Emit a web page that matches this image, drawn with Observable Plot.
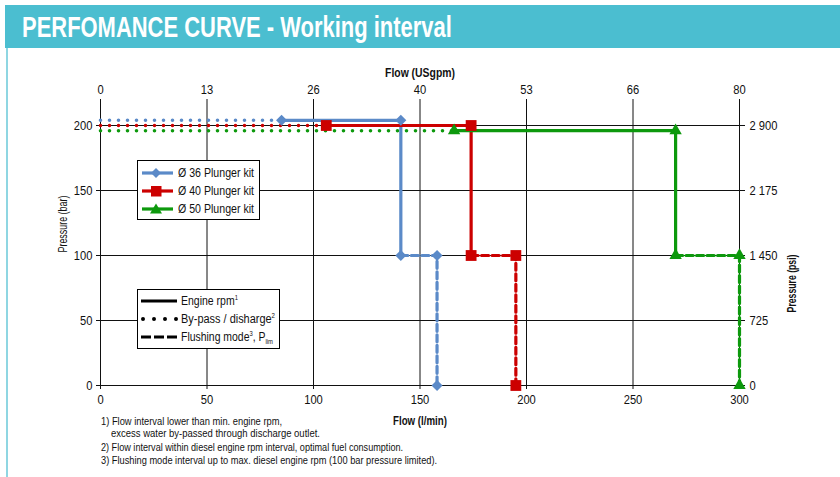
<!DOCTYPE html>
<html><head><meta charset="utf-8">
<script src="https://cdn.jsdelivr.net/npm/d3@7"></script>
<script src="https://cdn.jsdelivr.net/npm/@observablehq/plot@0.6"></script>
<style>
body{margin:0;background:#fff;width:840px;height:477px;position:relative;overflow:hidden;font-family:"Liberation Sans",Arial,sans-serif;color:#111;}
#title{position:absolute;left:5px;top:5px;width:835px;height:43px;background:#4bbed0;}
#title span{position:absolute;left:17px;top:4.5px;color:#fff;font-weight:bold;font-size:29px;line-height:34px;white-space:nowrap;transform-origin:left center;display:inline-block;}
#lborder{position:absolute;left:6px;top:48px;width:2px;height:429px;background:#8fd6e2;}
#chart{position:absolute;left:0;top:48px;}
.legend{position:absolute;border:1.5px solid #000;background:#fff;font-size:12.5px;box-sizing:border-box;}
.row{position:absolute;left:0;height:16px;line-height:16px;white-space:nowrap;}
.row .sw{position:absolute;top:0;}
.row .tx{position:absolute;top:0;display:inline-block;transform-origin:left center;}
sup{font-size:7px;vertical-align:5px;line-height:0;}
sub{font-size:7px;vertical-align:-3px;line-height:0;}
.fn{position:absolute;font-size:10.5px;white-space:nowrap;line-height:12px;display:inline-block;transform-origin:left center;}
</style></head>
<body>
<div id="title"><span data-w="430">PERFOMANCE CURVE - Working interval</span></div>
<div id="lborder"></div>
<div id="chart"></div>
<div class="legend" id="leg1" style="left:137px;top:160px;width:123px;height:60px;"></div>
<div class="legend" id="leg2" style="left:137px;top:289px;width:143px;height:60px;"></div>
<div class="fn" data-w="181" style="left:101px;top:415px;">1) Flow interval lower than min. engine rpm,</div>
<div class="fn" data-w="209" style="left:111px;top:427px;">excess water by-passed through discharge outlet.</div>
<div class="fn" data-w="302" style="left:101px;top:441px;">2) Flow interval within diesel engine rpm interval, optimal fuel consumption.</div>
<div class="fn" data-w="336" style="left:101px;top:454px;">3) Flushing mode interval up to max. diesel engine rpm (100 bar pressure limited).</div>
<script>
// ---- data ----
const flowTicks = [0, 50, 100, 150, 200, 250, 300];          // l/min
const usgpmLabels = ["0", "13", "26", "40", "53", "66", "80"];
const pressureTicks = [0, 50, 100, 150, 200];                 // bar
const psiLabels = ["0", "725", "1 450", "2 175", "2 900"];
const kits = ["Ø 36 Plunger kit", "Ø 40 Plunger kit", "Ø 50 Plunger kit"];
const kitColors = ["#5b8ac8", "#cc0000", "#0d990d"];
const bypassEndFlow = [85, 106, 166];       // end of by-pass (dotted) interval
const enginePressure = [204, 200, 196];     // bar, engine rpm interval
const engineMaxFlow = [141, 174, 270];      // l/min
const flushingPressure = [100, 100, 100];   // bar
const flushingMaxFlow = [158, 195, 300];    // l/min
const modeNames = ["Engine rpm", "By-pass / disharge", "Flushing mode"];

// ---- build tables ----
const dotted = [], solid = [], dashed = [], markers = [];
kits.forEach((kit, i) => {
  const P = enginePressure[i], F = flushingPressure[i];
  dotted.push({kit, x: 0, y: P}, {kit, x: bypassEndFlow[i], y: P});
  solid.push({kit, x: bypassEndFlow[i], y: P}, {kit, x: engineMaxFlow[i], y: P}, {kit, x: engineMaxFlow[i], y: F});
  dashed.push({kit, x: engineMaxFlow[i], y: F}, {kit, x: flushingMaxFlow[i], y: F}, {kit, x: flushingMaxFlow[i], y: 0});
  [[bypassEndFlow[i], P], [engineMaxFlow[i], P], [engineMaxFlow[i], F], [flushingMaxFlow[i], F], [flushingMaxFlow[i], 0]]
    .forEach(([x, y]) => markers.push({kit, x, y}));
});
const symOpts = [
  {symbol: "square", rotate: 45, r: 4.4},
  {symbol: "square", rotate: 0, r: 6.1},
  {symbol: "triangle", rotate: 0, r: 4.6}
];
const FONT = '"Liberation Sans",Arial,sans-serif';

const chart = Plot.plot({
  width: 840,
  height: 429,
  marginLeft: 100,
  marginRight: 101,
  marginTop: 51,
  marginBottom: 92,
  style: {fontFamily: FONT, fontSize: "13px", color: "#111", background: "transparent"},
  x: {domain: [0, 300]},
  y: {domain: [0, 220]},
  color: {domain: kits, range: kitColors},
  marks: [
    Plot.gridX(flowTicks, {stroke: "#111", strokeOpacity: 1, strokeWidth: 1}),
    Plot.gridY(pressureTicks, {stroke: "#111", strokeOpacity: 1, strokeWidth: 1}),
    Plot.axisX(flowTicks, {anchor: "bottom", tickSize: 4, tickPadding: 5, label: null, stroke: "#111"}),
    Plot.axisX(flowTicks, {anchor: "top", tickSize: 0, tickPadding: 6, label: null, tickFormat: (d, i) => usgpmLabels[i]}),
    Plot.axisY(pressureTicks, {anchor: "left", tickSize: 4, tickPadding: 4, label: null, stroke: "#111"}),
    Plot.axisY(pressureTicks, {anchor: "right", tickSize: 5, tickPadding: 5, label: null, stroke: "#111", tickFormat: (d, i) => psiLabels[i]}),
    Plot.text(["Flow (l/min)"], {frameAnchor: "bottom", dy: 39, fontWeight: "bold", fontSize: 13}),
    Plot.text(["Flow (USgpm)"], {frameAnchor: "top", dy: -32, fontWeight: "bold", fontSize: 13}),
    Plot.text(["Pressure (bar)"], {frameAnchor: "left", dx: -38, dy: 10, rotate: -90, fontSize: 12.5}),
    Plot.text(["Pressure (psi)"], {frameAnchor: "right", dx: 52, dy: 12, rotate: -90, fontWeight: "bold", fontSize: 12.5}),
    Plot.line(dotted, {x: "x", y: "y", z: "kit", stroke: "kit", strokeWidth: 3.6, strokeDasharray: "0,9", strokeLinecap: "round"}),
    Plot.line(solid, {x: "x", y: "y", z: "kit", stroke: "kit", strokeWidth: 3.2, strokeLinejoin: "miter"}),
    Plot.line(dashed, {x: "x", y: "y", z: "kit", stroke: "kit", strokeWidth: 3.2, strokeDasharray: "7,3.5"}),
    ...kits.map((kit, i) => Plot.dot(markers.filter(d => d.kit === kit),
      {x: "x", y: "y", fill: "kit", stroke: "none", symbol: symOpts[i].symbol, rotate: symOpts[i].rotate, r: symOpts[i].r}))
  ]
});
document.getElementById("chart").appendChild(chart);

// condense SVG text (reference uses a condensed typeface)
function squeeze(t, s) {
  const tr = t.getAttribute("transform") || "";
  t.setAttribute("transform", tr + ` scale(${s},1)`);
}
const allText = Array.from(chart.querySelectorAll("text"));
const ref = allText.find(t => t.textContent === "2 900");
const tickScale = ref ? 28 / ref.getComputedTextLength() : 0.85;
const labelTargets = {"Flow (l/min)": 54, "Flow (USgpm)": 70, "Pressure (bar)": 57, "Pressure (psi)": 58};
allText.forEach(t => {
  const txt = t.textContent;
  if (labelTargets[txt]) squeeze(t, labelTargets[txt] / t.getComputedTextLength());
  else squeeze(t, tickScale);
});

// ---- legends ----
const legMarkers = [
  c => `<rect x="11.5" y="4.5" width="7" height="7" fill="${c}" transform="rotate(45 15 8)"/>`,
  c => `<rect x="10" y="3" width="10.5" height="10.5" fill="${c}"/>`,
  c => `<path d="M15,2.5 L21,12.5 L9,12.5 Z" fill="${c}"/>`
];
const leg1 = document.getElementById("leg1");
kits.forEach((kit, i) => {
  const row = document.createElement("div");
  row.className = "row";
  row.style.top = (4 + i * 17.8) + "px";
  row.innerHTML = `<span class="sw" style="left:3px"><svg width="33" height="16"><line x1="1" x2="32" y1="8" y2="8" stroke="${kitColors[i]}" stroke-width="3.2"/>${legMarkers[i](kitColors[i])}</svg></span><span class="tx" data-w="76" style="left:40px">${kit}</span>`;
  leg1.appendChild(row);
});
const leg2 = document.getElementById("leg2");
const modeLines = [
  `<line x1="1" x2="37" y1="8" y2="8" stroke="#000" stroke-width="3"/>`,
  `<line x1="3" x2="37" y1="8" y2="8" stroke="#000" stroke-width="4" stroke-dasharray="0,11" stroke-linecap="round"/>`,
  `<line x1="1" x2="37" y1="8" y2="8" stroke="#000" stroke-width="3.2" stroke-dasharray="10,3"/>`
];
const modeSup = ["<sup>1</sup>", "<sup>2</sup>", "<sup>3</sup>, P<sub>lim</sub>"];
const modeW = [57, 94, 92];
modeNames.forEach((m, i) => {
  const row = document.createElement("div");
  row.className = "row";
  row.style.top = (3 + i * 18) + "px";
  row.innerHTML = `<span class="sw" style="left:2px"><svg width="38" height="16">${modeLines[i]}</svg></span><span class="tx" data-w="${modeW[i]}" style="left:43px">${m}${modeSup[i]}</span>`;
  leg2.appendChild(row);
});

// fit HTML texts to reference widths
document.querySelectorAll("[data-w]").forEach(el => {
  const w = el.getBoundingClientRect().width;
  if (w > 0) el.style.transform = `scaleX(${(+el.dataset.w / w).toFixed(3)})`;
});
</script>
</body></html>
